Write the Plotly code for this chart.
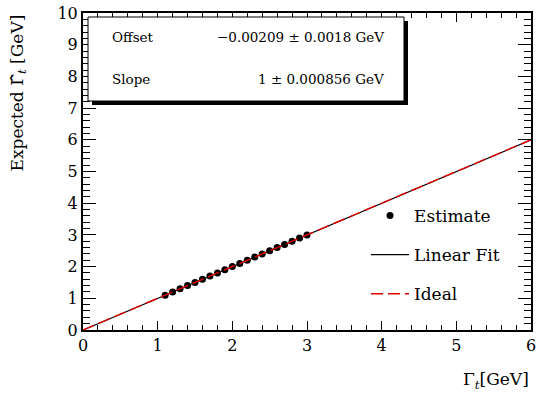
import plotly.graph_objects as go

# Data
est_x = [1.1, 1.2, 1.3, 1.4, 1.5, 1.6, 1.7, 1.8, 1.9, 2.0,
         2.1, 2.2, 2.3, 2.4, 2.5, 2.6, 2.7, 2.8, 2.9, 3.0]
est_y = [1.1, 1.2, 1.3, 1.4, 1.5, 1.6, 1.7, 1.8, 1.9, 2.0,
         2.1, 2.2, 2.3, 2.4, 2.5, 2.6, 2.7, 2.8, 2.9, 3.0]
fit_offset = -0.00209
fit_slope = 1.0
line_x = [0, 6]
fit_y = [fit_offset + fit_slope * v for v in line_x]
ideal_y = [v for v in line_x]
stat_names = ["Offset", "Slope"]
stat_values = ["\u22120.00209 \u00b1 0.0018 GeV", "1 \u00b1 0.000856 GeV"]

FONT = "DejaVu Serif"

fig = go.Figure()
fig.add_trace(go.Scatter(x=est_x, y=est_y, mode="markers", name="Estimate",
                         marker=dict(color="black", size=7), legendgroup="a"))
fig.add_trace(go.Scatter(x=line_x, y=fit_y, mode="lines", name="Linear Fit",
                         line=dict(color="black", width=1.2), legendgroup="b"))
fig.add_trace(go.Scatter(x=line_x, y=ideal_y, mode="lines", name="Ideal",
                         line=dict(color="#e00000", width=1.4, dash="12px,5px"), legendgroup="c"))

W, H = 537, 396
L, R, T, B = 83, 6, 13, 66
pw, ph = W - L - R, H - T - B

def px(xp):
    return (xp - L) / pw

def py(yp):
    return (H - B - yp) / ph

# stats box with shadow
fig.add_shape(type="rect", xref="paper", yref="paper",
              x0=px(92), x1=px(408), y0=py(105), y1=py(21),
              fillcolor="black", line=dict(width=0), layer="above")
fig.add_shape(type="rect", xref="paper", yref="paper",
              x0=px(88), x1=px(404), y0=py(101), y1=py(17),
              fillcolor="white", line=dict(color="black", width=1), layer="above")
for i, (n, v) in enumerate(zip(stat_names, stat_values)):
    yy = py(37 + 42 * i)
    fig.add_annotation(x=px(110), y=yy, xref="paper", yref="paper", text=n,
                       showarrow=False, xanchor="left", yanchor="middle",
                       font=dict(family=FONT, size=13.5, color="black"))
    fig.add_annotation(x=px(386), y=yy, xref="paper", yref="paper", text=v,
                       showarrow=False, xanchor="right", yanchor="middle",
                       font=dict(family=FONT, size=13.5, color="black"))

# axis titles
fig.add_annotation(x=1, y=py(381), xref="paper", yref="paper",
                   text="\u0393<sub><i>t</i></sub>[GeV]", showarrow=False,
                   xanchor="right", yanchor="middle",
                   font=dict(family=FONT, size=17, color="black"))
fig.add_annotation(x=px(18), y=1, xref="paper", yref="paper",
                   text="Expected \u0393\u0302<sub><i>t</i></sub> [GeV]", showarrow=False,
                   textangle=-90, xanchor="center", yanchor="top",
                   font=dict(family=FONT, size=17, color="black"))

fig.update_xaxes(range=[0, 6], dtick=1, tick0=0, ticks="inside", ticklen=9, tickwidth=1,
                 tickcolor="black", showline=True, linecolor="black", linewidth=2,
                 mirror="allticks", showgrid=False, zeroline=False, automargin=False,
                 minor=dict(dtick=0.2, ticks="inside", ticklen=5, tickcolor="black", tickwidth=1, showgrid=False),
                 tickfont=dict(family=FONT, size=16, color="black"))
fig.update_yaxes(range=[0, 10], dtick=1, tick0=0, ticks="inside", ticklen=13, tickwidth=1,
                 tickcolor="black", showline=True, linecolor="black", linewidth=2,
                 mirror="allticks", showgrid=False, zeroline=False, automargin=False,
                 minor=dict(dtick=0.2, ticks="inside", ticklen=7, tickcolor="black", tickwidth=1, showgrid=False),
                 tickfont=dict(family=FONT, size=16, color="black"))

fig.update_layout(width=W, height=H, margin=dict(l=L, r=R, t=T, b=B),
                  paper_bgcolor="white", plot_bgcolor="white",
                  font=dict(family=FONT, color="black"),
                  showlegend=True,
                  legend=dict(x=px(366), y=py(198), xanchor="left", yanchor="top",
                              bgcolor="rgba(0,0,0,0)", borderwidth=0, itemwidth=38,
                              font=dict(family=FONT, size=17, color="black"),
                              tracegroupgap=14, traceorder="grouped"))

fig.write_html("out.html")
